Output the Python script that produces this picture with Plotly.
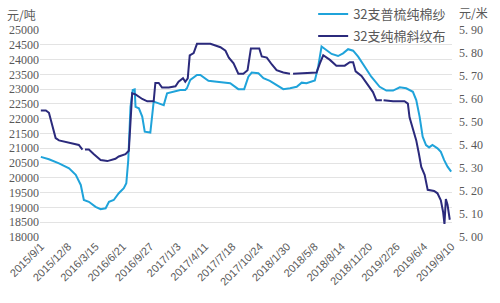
import plotly.graph_objects as go

# ---- data ----
yarn_name = "32支普梳纯棉纱"
fabric_name = "32支纯棉斜纹布"

yarn_dates = [
    "2015-09-01", "2015-09-30", "2015-11-05", "2015-12-11", "2016-01-04", "2016-01-22",
    "2016-02-02", "2016-02-20", "2016-03-15", "2016-04-02", "2016-04-20", "2016-05-02",
    "2016-05-19", "2016-06-06", "2016-06-24", "2016-07-03", "2016-07-10", "2016-07-18",
    "2016-07-26", "2016-08-02", "2016-08-05", "2016-08-17", "2016-08-29", "2016-09-07",
    "2016-09-27", "2016-10-03", "2016-10-09", "2016-10-27", "2016-11-14", "2016-11-26",
    "2016-12-14", "2017-01-12", "2017-01-30", "2017-02-05", "2017-02-17", "2017-03-13",
    "2017-03-25", "2017-04-12", "2017-04-23", "2017-05-23", "2017-07-10", "2017-08-08",
    "2017-08-29", "2017-09-13", "2017-09-25", "2017-10-19", "2017-11-06", "2017-11-29",
    "2017-12-23", "2018-01-16", "2018-02-09", "2018-03-05", "2018-03-23", "2018-04-09",
    "2018-05-09", "2018-05-21", "2018-06-02", "2018-06-14", "2018-07-08", "2018-07-31",
    "2018-08-18", "2018-09-05", "2018-09-23", "2018-10-11", "2018-11-04", "2018-11-27",
    "2018-12-27", "2019-01-20", "2019-02-13", "2019-03-09", "2019-04-01", "2019-04-25",
    "2019-05-07", "2019-05-19", "2019-05-30", "2019-06-11", "2019-06-22", "2019-07-04",
    "2019-07-22", "2019-08-03", "2019-08-15", "2019-08-27", "2019-09-09",
]
yarn_values = [
    20710, 20630, 20490, 20320, 20100, 19760,
    19250, 19190, 19020, 18940, 18970, 19190,
    19250, 19480, 19650, 19815, 20600, 22400,
    22970, 22990, 22400, 22350, 22070, 21560,
    21530, 21960, 22580, 22520, 22460, 22860,
    22910, 22970, 22970, 23030, 23310, 23480,
    23480, 23370, 23280, 23250, 23200, 23000,
    23000, 23420, 23560, 23540, 23370, 23280,
    23140, 23000, 23030, 23080, 23220, 23200,
    23290, 23760, 24440, 24350, 24190, 24120,
    24210, 24350, 24300, 24100, 23760, 23420,
    23080, 22950, 22950, 23060, 23030, 22910,
    22630, 22070, 21390, 21110, 21030, 21110,
    21000, 20880, 20600, 20380, 20210,
]

fabric_dates = [
    "2015-09-01", "2015-09-19", "2015-09-30", "2015-10-13", "2015-10-24", "2015-11-05",
    "2015-12-11", "2016-01-15", "2016-01-28", "2016-02-01", "2016-02-06", "2016-02-20",
    "2016-03-09", "2016-04-02", "2016-04-26", "2016-05-25", "2016-06-06", "2016-06-30",
    "2016-07-12", "2016-07-18", "2016-07-24", "2016-08-05", "2016-08-29", "2016-09-16",
    "2016-10-09", "2016-10-15", "2016-10-27", "2016-11-08", "2016-12-02", "2016-12-26",
    "2017-01-06", "2017-01-22", "2017-01-30", "2017-02-08", "2017-02-15", "2017-03-01",
    "2017-03-13", "2017-04-30", "2017-06-05", "2017-06-23", "2017-07-05", "2017-07-22",
    "2017-08-08", "2017-08-26", "2017-09-10", "2017-09-22", "2017-10-22", "2017-10-31",
    "2017-11-18", "2017-12-06", "2017-12-23", "2018-01-16", "2018-02-09", "2018-02-14",
    "2018-02-20", "2018-05-15", "2018-05-27", "2018-06-08", "2018-07-02", "2018-07-25",
    "2018-08-24", "2018-09-11", "2018-09-23", "2018-10-02", "2018-10-23", "2018-11-10",
    "2018-11-21", "2018-12-03", "2018-12-15", "2019-01-04", "2019-01-07", "2019-01-10",
    "2019-02-13", "2019-03-26", "2019-04-07", "2019-04-13", "2019-04-25", "2019-05-07",
    "2019-05-16", "2019-05-25", "2019-06-06", "2019-06-17", "2019-07-10", "2019-07-22",
    "2019-08-03", "2019-08-11", "2019-08-16", "2019-08-21", "2019-08-27", "2019-09-04",
]
fabric_values = [
    5.55, 5.55, 5.54, 5.48, 5.43, 5.42,
    5.41, 5.40, 5.38, None, 5.38, 5.38,
    5.36, 5.335, 5.33, 5.34, 5.35, 5.36,
    5.375, 5.51, 5.625, 5.62, 5.60, 5.59,
    5.59, 5.67, 5.67, 5.65, 5.65, 5.655,
    5.675, 5.69, 5.675, 5.69, 5.79, 5.80,
    5.84, 5.84, 5.825, 5.81, 5.78, 5.755,
    5.71, 5.71, 5.725, 5.82, 5.82, 5.785,
    5.78, 5.75, 5.725, 5.715, 5.71, None,
    5.71, 5.715, 5.755, 5.79, 5.77, 5.745,
    5.745, 5.76, 5.76, 5.72, 5.70, 5.67,
    5.655, 5.63, 5.595, 5.595, None, 5.595,
    5.59, 5.59, 5.58, 5.52, 5.465, 5.42,
    5.365, 5.305, 5.27, 5.205, 5.20, 5.19,
    5.16, 5.11, 5.057, 5.165, 5.14, 5.075,
]

x_tick_dates = [
    "2015-09-01", "2015-12-08", "2016-03-15", "2016-06-21", "2016-09-27", "2017-01-03",
    "2017-04-11", "2017-07-18", "2017-10-24", "2018-01-30", "2018-05-08", "2018-08-14",
    "2018-11-20", "2019-02-26", "2019-06-04", "2019-09-10",
]
x_tick_labels = [
    "2015/9/1", "2015/12/8", "2016/3/15", "2016/6/21", "2016/9/27", "2017/1/3",
    "2017/4/11", "2017/7/18", "2017/10/24", "2018/1/30", "2018/5/8", "2018/8/14",
    "2018/11/20", "2019/2/26", "2019/6/4", "2019/9/10",
]
left_ticks = [18000, 18500, 19000, 19500, 20000, 20500, 21000, 21500, 22000,
              22500, 23000, 23500, 24000, 24500, 25000]
right_ticks = [5.0, 5.1, 5.2, 5.3, 5.4, 5.5, 5.6, 5.7, 5.8, 5.9]
right_labels = ["5. 00", "5. 10", "5. 20", "5. 30", "5. 40", "5. 50",
                "5. 60", "5. 70", "5. 80", "5. 90"]

# ---- styling ----
YARN_COLOR = "#1FA3DA"
FABRIC_COLOR = "#2B2A7C"
TEXT_COLOR = "#595959"
CJK = "Noto Sans CJK SC"
SERIF = "Liberation Serif"

legend_common = dict(
    x=0.663, xanchor="left", yanchor="middle",
    bgcolor="rgba(0,0,0,0)", borderwidth=0,
    font=dict(family=CJK, size=13, color=TEXT_COLOR),
    itemwidth=30,
)

fig = go.Figure()
fig.add_trace(go.Scatter(
    x=yarn_dates, y=yarn_values, name=yarn_name, mode="lines",
    line=dict(color=YARN_COLOR, width=2), yaxis="y", legend="legend",
))
fig.add_trace(go.Scatter(
    x=fabric_dates, y=fabric_values, name=fabric_name, mode="lines",
    line=dict(color=FABRIC_COLOR, width=2), yaxis="y2", connectgaps=False,
    legend="legend2",
))

fig.update_layout(
    width=500, height=303,
    margin=dict(l=40, r=48, t=30, b=66, autoexpand=False),
    paper_bgcolor="white", plot_bgcolor="white",
    showlegend=True,
    legend=dict(y=1.077, **legend_common),
    legend2=dict(y=0.971, **legend_common),
    xaxis=dict(
        type="date",
        range=["2015-08-29", "2019-09-12"],
        tickvals=x_tick_dates, ticktext=x_tick_labels,
        tickangle=-45,
        tickfont=dict(family="Liberation Sans", size=11, color=TEXT_COLOR),
        showgrid=False, zeroline=False, showline=False, ticks="",
        automargin=False,
    ),
    yaxis=dict(
        range=[18000, 25000], tickvals=left_ticks, tickformat="d",
        tickfont=dict(family=SERIF, size=12, color=TEXT_COLOR),
        showgrid=True, gridcolor="#E3E3E3", gridwidth=1,
        zeroline=False, showline=False, ticks="",
        automargin=False,
    ),
    yaxis2=dict(
        range=[5.0, 5.9], overlaying="y", side="right",
        tickvals=right_ticks, ticktext=right_labels,
        tickfont=dict(family=SERIF, size=12, color=TEXT_COLOR),
        showgrid=False, zeroline=False, showline=False, ticks="",
        ticklabelstandoff=6, automargin=False,
    ),
    annotations=[
        dict(text="元/吨", xref="paper", yref="paper", x=-0.085, y=1.0, yshift=16,
             xanchor="left", yanchor="middle", showarrow=False,
             font=dict(family=CJK, size=12, color=TEXT_COLOR)),
        dict(text="元/米", xref="paper", yref="paper", x=1.0, y=1.0, xshift=5, yshift=18,
             xanchor="left", yanchor="middle", showarrow=False,
             font=dict(family=CJK, size=12, color=TEXT_COLOR)),
    ],
)

fig.write_html("out.html")
